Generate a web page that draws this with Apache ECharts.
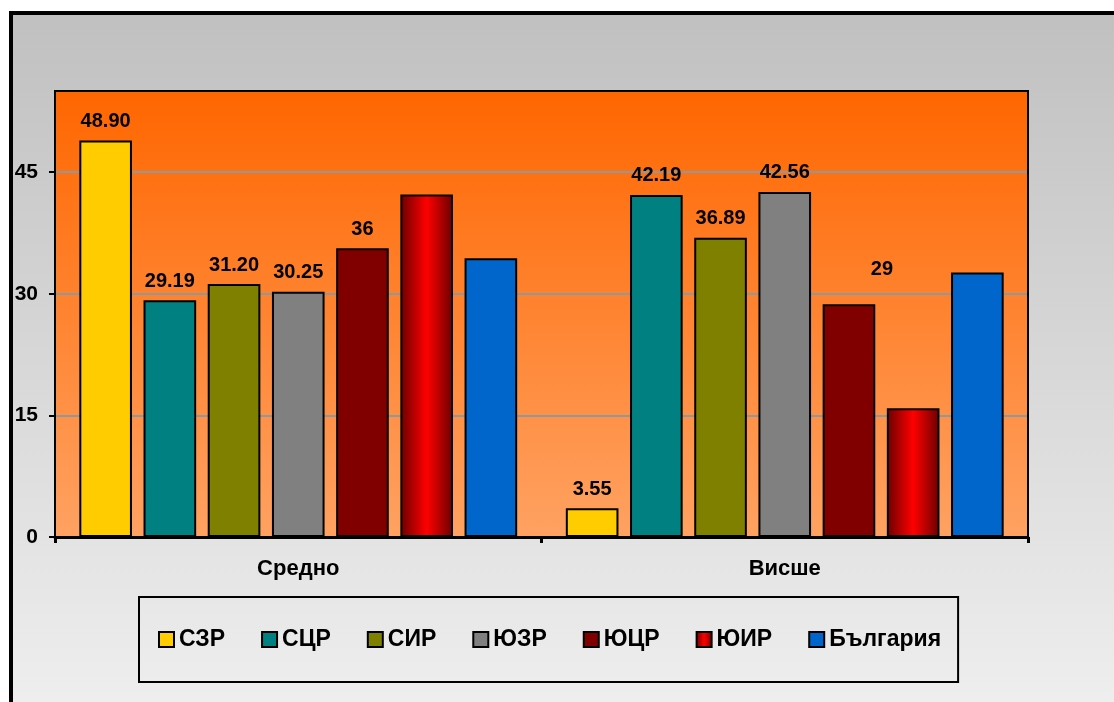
<!DOCTYPE html>
<html>
<head>
<meta charset="utf-8">
<script src="https://cdn.jsdelivr.net/npm/echarts@6/dist/echarts.min.js"></script>
<style>
html,body{margin:0;padding:0;background:#fff;}
#chart{width:1114px;height:702px;}
</style>
</head>
<body>
<div id="chart"></div>
<script>
const categories = ['Средно', 'Висше'];
const seriesNames = ['СЗР', 'СЦР', 'СИР', 'ЮЗР', 'ЮЦР', 'ЮИР', 'България'];
const valuesSZR = [48.90, 3.55];
const valuesSCR = [29.19, 42.19];
const valuesSIR = [31.20, 36.89];
const valuesUZR = [30.25, 42.56];
const valuesUCR = [35.6, 28.7];
const valuesUIR = [42.25, 15.87];
const valuesBG  = [34.36, 32.63];
const labelsSZR = ['48.90', '3.55'];
const labelsSCR = ['29.19', '42.19'];
const labelsSIR = ['31.20', '36.89'];
const labelsUZR = ['30.25', '42.56'];
const labelsUCR = ['36', '29'];
const labelsUIR = [null, null];
const labelsBG  = [null, null];
const yTicks = [0, 15, 30, 45];

const allValues = [valuesSZR, valuesSCR, valuesSIR, valuesUZR, valuesUCR, valuesUIR, valuesBG];
const allLabels = [labelsSZR, labelsSCR, labelsSIR, labelsUZR, labelsUCR, labelsUIR, labelsBG];

const FONT = '"Liberation Sans", Arial, sans-serif';
const colors = [
  '#ffcc00', '#008080', '#808000', '#808080', '#800000',
  new echarts.graphic.LinearGradient(0, 0, 1, 0, [
    {offset: 0, color: '#6a0000'},
    {offset: 0.5, color: '#ff0000'},
    {offset: 1, color: '#6a0000'}
  ]),
  '#0066cc'
];

const series = seriesNames.map((name, si) => ({
  name: name,
  type: 'bar',
  barGap: '22%',
  barCategoryGap: '10%',
  itemStyle: {color: colors[si], borderColor: '#000', borderWidth: 2},
  data: allValues[si].map((v, ci) => {
    const lab = allLabels[si][ci];
    const item = {value: v};
    if (lab !== null) {
      item.label = {
        show: true, position: 'top', distance: 9,
        formatter: () => lab,
        color: '#000', fontWeight: 'bold', fontSize: 20, fontFamily: FONT
      };
      if (name === 'ЮЦР' && ci === 1) item.label.offset = [33, -16];
    } else {
      item.label = {show: false};
    }
    return item;
  })
}));

const chart = echarts.init(document.getElementById('chart'), null, {renderer: 'canvas'});
chart.setOption({
  animation: false,
  backgroundColor: '#ffffff',
  graphic: [{
    type: 'rect', z: -10, silent: true,
    shape: {x: 11, y: 13, width: 1120, height: 700},
    style: {
      fill: new echarts.graphic.LinearGradient(0, 0, 0, 1, [
        {offset: 0, color: '#c0c0c0'},
        {offset: 1, color: '#efefef'}
      ]),
      stroke: '#000', lineWidth: 4
    }
  }, {
    type: 'rect', z: 100, silent: true,
    shape: {x: 55, y: 91, width: 973, height: 446},
    style: {fill: null, stroke: '#000', lineWidth: 2}
  }],
  grid: {
    left: 55, top: 91, right: 86, bottom: 165,
    show: true,
    backgroundColor: new echarts.graphic.LinearGradient(0, 0, 0, 1, [
      {offset: 0, color: '#ff6600'},
      {offset: 1, color: '#ffa262'}
    ]),
    borderColor: '#000', borderWidth: 2
  },
  legend: {
    data: seriesNames,
    icon: 'rect',
    left: 139, top: 597,
    padding: [31, 17, 31, 19],
    itemGap: 36,
    itemWidth: 15, itemHeight: 15,
    borderColor: '#000', borderWidth: 2,
    itemStyle: {borderColor: '#000', borderWidth: 2},
    textStyle: {color: '#000', fontWeight: 'bold', fontSize: 23, fontFamily: FONT}
  },
  xAxis: {
    type: 'category',
    data: categories,
    axisLine: {show: true, lineStyle: {color: '#000', width: 3}},
    axisTick: {show: true, length: 6, lineStyle: {color: '#000', width: 3}},
    axisLabel: {margin: 21, color: '#000', fontWeight: 'bold', fontSize: 22, fontFamily: FONT},
    splitLine: {show: false}
  },
  yAxis: {
    type: 'value',
    min: 0, max: 55, interval: 15,
    axisLine: {show: false},
    axisTick: {show: true, length: 6, lineStyle: {color: '#000', width: 2}},
    axisLabel: {
      margin: 17, color: '#000', fontWeight: 'bold', fontSize: 21, fontFamily: FONT,
      showMaxLabel: false,
      formatter: v => (yTicks.indexOf(v) >= 0 ? String(v) : '')
    },
    splitLine: {show: true, lineStyle: {color: '#8a9aa0', width: 2}}
  },
  series: series
});
</script>
</body>
</html>
